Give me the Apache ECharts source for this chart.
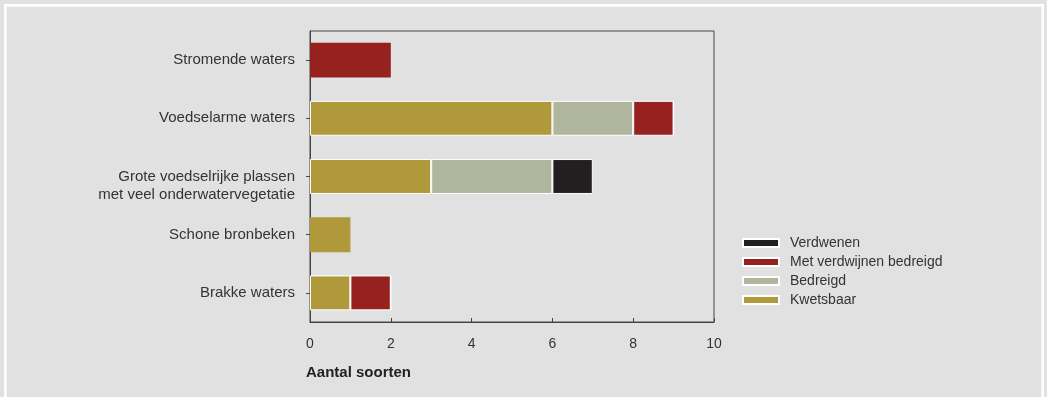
<!DOCTYPE html>
<html><head><meta charset="utf-8">
<script src="https://cdn.jsdelivr.net/npm/echarts@6/dist/echarts.min.js"></script>
<style>html,body{margin:0;padding:0;background:#e0e1e0;}#c{width:1047px;height:397px;}</style>
</head><body><div id="c"></div>
<script>
const categories = ["Stromende waters", "Voedselarme waters", "Grote voedselrijke plassen\nmet veel onderwatervegetatie", "Schone bronbeken", "Brakke waters"];
const kwetsbaar = [0, 6, 3, 1, 1];
const bedreigd = [0, 2, 3, 0, 0];
const metVerdwijnenBedreigd = [2, 1, 0, 0, 1];
const verdwenen = [0, 0, 1, 0, 0];
const xTicks = [0, 2, 4, 6, 8, 10];
const seriesNames = ["Kwetsbaar", "Bedreigd", "Met verdwijnen bedreigd", "Verdwenen"];
const colors = ["#b0993a", "#b0b69e", "#962220", "#231f20"];
const values = [kwetsbaar, bedreigd, metVerdwijnenBedreigd, verdwenen];

// segments count per category: single-segment bars are drawn without white separators
const segCount = categories.map((c, j) => values.filter(arr => arr[j] > 0).length);

const font = "Liberation Sans";
const chart = echarts.init(document.getElementById('c'));
chart.setOption({
  backgroundColor: '#e0e1e0',
  animation: false,
  graphic: [{
    type: 'rect', silent: true,
    shape: { x: 5.4, y: 5.4, width: 1037.3, height: 600 },
    style: { fill: 'none', stroke: '#ffffff', lineWidth: 2.6 }
  }],
  grid: { left: 310, right: 333, top: 31, bottom: 75, show: true, borderColor: '#444', borderWidth: 1, backgroundColor: 'transparent' },
  legend: {
    orient: 'vertical', left: 737, top: 231,
    data: ["Verdwenen", "Met verdwijnen bedreigd", "Bedreigd", "Kwetsbaar"],
    itemWidth: 36, itemHeight: 8, itemGap: 5,
    icon: 'rect',
    textStyle: { fontFamily: font, fontSize: 14, color: '#333', lineHeight: 14, padding: [0, 0, 0, 6] }
  },
  xAxis: {
    type: 'value', min: 0, max: 10, interval: 2,
    axisLine: { show: true, lineStyle: { color: '#444', width: 1 } },
    axisTick: { show: true, inside: true, length: 4, lineStyle: { color: '#444' } },
    splitLine: { show: false },
    axisLabel: { fontFamily: font, fontSize: 14, color: '#333', margin: 15, formatter: v => xTicks.includes(v) ? String(v) : '' },
    name: 'Aantal soorten', nameLocation: 'start',
    nameTextStyle: { fontFamily: font, fontSize: 15, fontWeight: 'bold', color: '#222', align: 'left', verticalAlign: 'top', padding: [43, 0, 0, -4] },
    nameGap: 0
  },
  yAxis: {
    type: 'category', data: categories, inverse: true,
    axisLine: { show: true, lineStyle: { color: '#444', width: 1 } },
    axisTick: { show: true, alignWithLabel: true, length: 4, lineStyle: { color: '#444' } },
    axisLabel: { fontFamily: font, fontSize: 15, color: '#333', margin: 15, lineHeight: 18, verticalAlign: 'top', padding: [-9, 0, 0, 0] }
  },
  series: seriesNames.map((n, i) => ({
    name: n, type: 'bar', stack: 'total', barWidth: '60%',
    data: values[i].map((v, j) => segCount[j] > 1 ? v : { value: v, itemStyle: { borderWidth: 0 } }),
    itemStyle: { color: colors[i], borderColor: '#ffffff', borderWidth: 1 }
  }))
});
</script></body></html>
